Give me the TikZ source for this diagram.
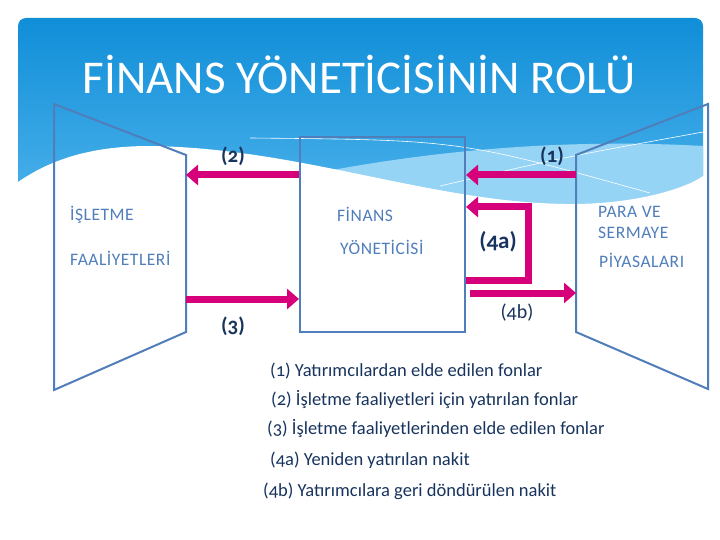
\documentclass[tikz,border=0pt]{standalone}
\usepackage{fontspec}
\setmainfont{Carlito}[Numbers=OldStyle]
\usetikzlibrary{arrows.meta, positioning}
\definecolor{slidetop}{RGB}{16,142,216}
\definecolor{slidemid}{RGB}{86,184,238}
\definecolor{slideband}{RGB}{150,212,246}
\definecolor{boxblue}{RGB}{79,126,186}
\definecolor{flowpink}{RGB}{214,0,122}
\definecolor{inknavy}{RGB}{24,52,94}

\begin{document}
\begin{tikzpicture}[x=1pt, y=-1pt,
    box/.style={draw=boxblue, line width=2pt},
    flow/.style={draw=flowpink, line width=7pt, -{Triangle[length=12pt,width=20pt]}},
    tag/.style={text=inknavy, font=\fontsize{21}{23}\selectfont\bfseries},
    lbl/.style={text=boxblue, font=\fontsize{17.5}{19}\selectfont\addfontfeatures{LetterSpace=3}, anchor=west, inner sep=0pt},
    note/.style={text=inknavy, font=\fontsize{18.5}{20}\selectfont, anchor=west, inner sep=0pt}]
    \useasboundingbox (0,0) rectangle (720,540);

    % slide background with the wave
    \shade[top color=slidetop, bottom color=slidemid, rounded corners=8pt]
          (18,18) rectangle (703,240);
    \fill[slideband] (230,192) .. controls (400,150) and (560,138) .. (703,146)
          -- (703,240) -- (230,240) -- cycle;
    \fill[white] (0,182) -- (18,182) .. controls (50,160) and (90,146) .. (150,146)
          .. controls (300,148) and (430,202) .. (565,204)
          .. controls (640,205) and (690,186) .. (703,176)
          -- (720,176) -- (720,540) -- (0,540) -- cycle;
    \draw[white, line width=0.6pt] (440,186) .. controls (560,158) .. (703,132);
    \draw[white, line width=0.6pt] (250,138) .. controls (460,140) .. (650,193);

    \node[text=white, font=\fontsize{47}{50}\selectfont] (title) at (359,74)
          {FİNANS YÖNETİCİSİNİN ROLÜ};

    % the three blocks
    \draw[box] (54,104) -- (186,155) -- (186,332) -- (54,390) -- cycle;
    \draw[box] (576,155) -- (708,104) -- (708,389) -- (576,332) -- cycle;
    \node[box, minimum width=165pt, minimum height=195pt, inner sep=0pt] (fm)
          at (382.5,234.5) {};

    \coordinate (il1) at (186,175);
    \coordinate (il2) at (186,299);
    \coordinate (pv1) at (576,175);
    \coordinate (pv2) at (576,293);
    \coordinate (r4a) at (528,280);
    \coordinate (t4a) at (528,207);

    % flows
    \draw[flow] (pv1) -- (fm.east |- pv1);
    \draw[flow] (fm.west |- il1) -- (il1);
    \draw[flow] (il2) -- (fm.west |- il2);
    \draw[flow] (fm.east |- r4a) -- (r4a) -- (t4a) -- (fm.east |- t4a);
    \draw[flow] ([xshift=4pt]fm.east |- pv2) -- (pv2);

    \node[tag] (n1) at (552,156) {(1)};
    \node[tag] (n2) at (233,156) {(2)};
    \node[tag] (n3) at (233,326) {(3)};
    \node[tag, font=\fontsize{23}{25}\selectfont\bfseries] (n4a) at (498,242) {(4a)};
    \node[font=\fontsize{20}{22}\selectfont, text=inknavy] (n4b) at (517,313) {(4b)};

    % block texts
    \node[lbl] (isl) at (70,215) {İŞLETME};
    \node[lbl] (faa) at (70,258) {FAALİYETLERİ};
    \node[lbl] (fin) at (337,214) {FİNANS};
    \node[lbl] (yon) at (340,247) {YÖNETİCİSİ};
    \node[lbl] (par) at (598,212) {PARA VE};
    \node[lbl] (ser) at (598,233) {SERMAYE};
    \node[lbl] (piy) at (599,260) {PİYASALARI};

    % legend
    \node[note] (k1) at (270,371) {(1) Yatırımcılardan elde edilen fonlar};
    \node[note] (k2) at (271,400) {(2) İşletme faaliyetleri için yatırılan fonlar};
    \node[note] (k3) at (267,429) {(3) İşletme faaliyetlerinden elde edilen fonlar};
    \node[note] (k4a) at (270,460) {(4a) Yeniden yatırılan nakit};
    \node[note] (k4b) at (263,491) {(4b) Yatırımcılara geri döndürülen nakit};
\end{tikzpicture}
\end{document}
